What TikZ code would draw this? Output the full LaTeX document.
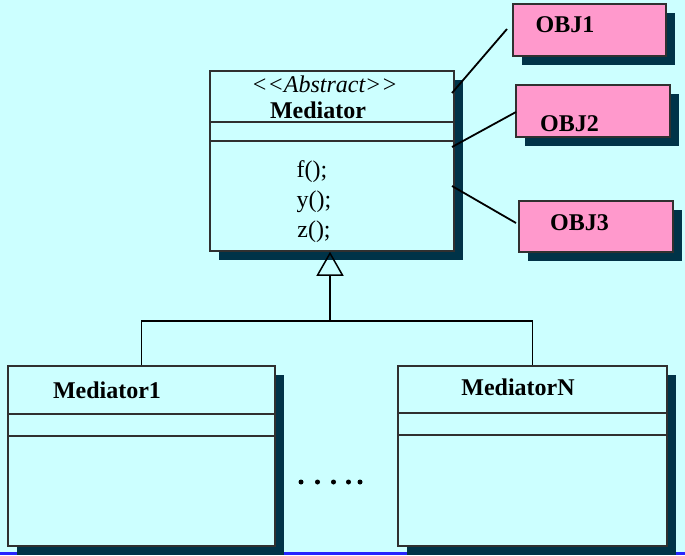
\documentclass[tikz,border=0pt]{standalone}
\usepackage{fontspec}
\setmainfont{Liberation Serif}
\usetikzlibrary{shadows,arrows.meta}
\definecolor{bgcol}{HTML}{CCFFFF}
\definecolor{pinkcol}{HTML}{FF99CC}
\definecolor{shcol}{HTML}{003348}
\definecolor{bordercol}{HTML}{303030}
\definecolor{bluecol}{HTML}{2525FF}
\tikzset{
  boxbase/.style={rectangle, draw=bordercol, line width=1.5pt, inner sep=0pt,
    drop shadow={shadow xshift=9pt, shadow yshift=-9pt, fill=shcol, opacity=1}},
  umlbox/.style={boxbase, fill=bgcol},
  objbox/.style={boxbase, fill=pinkcol},
  divider/.style={draw=bordercol, line width=1.5pt},
  conn/.style={draw=black, line width=1.8pt},
  lbl/.style={anchor=base, inner sep=0pt, font=\fontsize{24}{28}\selectfont\bfseries},
  mtext/.style={anchor=base, inner sep=0pt, font=\fontsize{24}{28}\selectfont},
  dotmark/.style={circle, fill=black, inner sep=0pt, minimum size=5pt}
}
\begin{document}
\begin{tikzpicture}[x=1pt,y=-1pt]
\useasboundingbox (0,0) rectangle (685,555);
\fill[bgcol] (0,0) rectangle (685,555);
\fill[bluecol] (0,552) rectangle (685,554.5);

% boxes
\node[umlbox, minimum width=244pt, minimum height=180pt] (med) at (332,161) {};
\node[umlbox, minimum width=267pt, minimum height=180pt] (m1) at (141.5,456) {};
\node[umlbox, minimum width=269pt, minimum height=180pt] (mN) at (532.5,456) {};
\node[objbox, minimum width=153pt, minimum height=52pt] (obj1) at (589.5,30) {};
\node[objbox, minimum width=154pt, minimum height=52pt] (obj2) at (593,111) {};
\node[objbox, minimum width=154pt, minimum height=51pt] (obj3) at (596,226.5) {};

% dividers
\draw[divider] (med.west |- 0,122) -- (med.east |- 0,122);
\draw[divider] (med.west |- 0,141) -- (med.east |- 0,141);
\draw[divider] (m1.west |- 0,414) -- (m1.east |- 0,414);
\draw[divider] (m1.west |- 0,436) -- (m1.east |- 0,436);
\draw[divider] (mN.west |- 0,413) -- (mN.east |- 0,413);
\draw[divider] (mN.west |- 0,435) -- (mN.east |- 0,435);

% texts
\node[mtext] (abs) at (324.5,92) {\itshape <\kern0pt<Abstract>\kern0pt>};
\node[lbl] (medname) at (318,118) {Mediator};
\node[mtext] (fm) at (312,177) {f();};
\node[mtext] (ym) at (314,207) {y();};
\node[mtext] (zm) at (314,237) {z();};
\node[lbl] (m1name) at (107,398) {Mediator1};
\node[lbl] (mNname) at (518,395) {MediatorN};
\node[lbl] (o1) at (565,32) {OBJ1};
\node[lbl] (o2) at (569.5,131) {OBJ2};
\node[lbl] (o3) at (579.5,230) {OBJ3};

% inheritance
\coordinate (hub) at (330,321);
\draw[conn, line width=1.5pt] (m1.north) |- (hub) -| (mN.north);
\draw[conn, line width=1.5pt, -{Triangle[open, length=24pt, width=27pt, line width=1.5pt]}] (hub) -- (hub |- med.south);

% connectors to objects
\coordinate (s1) at (452,93);
\coordinate (e1) at (507,29);
\coordinate (s2) at (452,147);
\coordinate (e2) at (516,112);
\coordinate (s3) at (452,186);
\coordinate (e3) at (516,223);
\draw[conn] (s1) -- (e1);
\draw[conn] (s2) -- (e2);
\draw[conn] (s3) -- (e3);

% dots
\node[dotmark] (d1) at (301,482) {};
\node[dotmark] (d2) at (317.5,482) {};
\node[dotmark] (d3) at (333.5,482) {};
\node[dotmark] (d4) at (348.5,482) {};
\node[dotmark] (d5) at (360,482) {};
\end{tikzpicture}
\end{document}
